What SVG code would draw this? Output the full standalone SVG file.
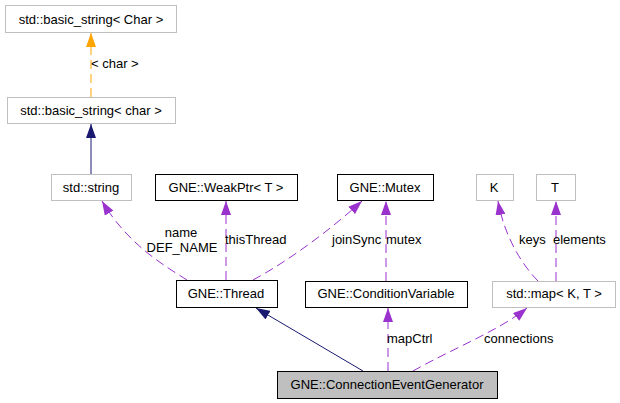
<svg xmlns="http://www.w3.org/2000/svg" width="620" height="403" viewBox="0 0 620 403">
<style>
text{font-family:"Liberation Sans",Arial,sans-serif;font-size:13px;fill:#000}
.n text{text-anchor:middle}
.b{fill:#fff;stroke:#000;stroke-width:1}
.g{fill:#fff;stroke:#bfbfbf;stroke-width:1}
.cur{fill:#bfbfbf;stroke:#000;stroke-width:1}
.e{fill:none;stroke-width:1}
.p{stroke:#9a32cd;stroke-dasharray:9,5}
.o{stroke:#ffa500;stroke-dasharray:9,5}
.nv{stroke:#191970}
</style>
<defs>
<marker id="ap" viewBox="0 0 14 10" refX="14" refY="5" markerWidth="14" markerHeight="10" markerUnits="userSpaceOnUse" orient="auto"><path d="M0,0L14,5L0,10z" fill="#9a32cd"/></marker>
<marker id="ao" viewBox="0 0 14 10" refX="14" refY="5" markerWidth="14" markerHeight="10" markerUnits="userSpaceOnUse" orient="auto"><path d="M0,0L14,5L0,10z" fill="#ffa500"/></marker>
<marker id="an" viewBox="0 0 14 10" refX="14" refY="5" markerWidth="14" markerHeight="10" markerUnits="userSpaceOnUse" orient="auto"><path d="M0,0L14,5L0,10z" fill="#191970"/></marker>
</defs>
<g id="connectors">
<path class="e o" d="M91,97 L91,33" marker-end="url(#ao)"/>
<text x="91" y="68">&lt; char &gt;</text>
<path class="e nv" d="M91,174 L91,124" marker-end="url(#an)"/>
<path class="e p" d="M187,280 C165,266 128,245 102,201" marker-end="url(#ap)"/>
<text x="181" y="237" text-anchor="middle">name</text>
<text x="182" y="252" text-anchor="middle">DEF_NAME</text>
<path class="e p" d="M226,280 L226,201" marker-end="url(#ap)"/>
<text x="225" y="244">thisThread</text>
<path class="e p" d="M253,280 C290,260 330,230 362,201" marker-end="url(#ap)"/>
<text x="332" y="244">joinSync</text>
<path class="e p" d="M386,281 L386,201" marker-end="url(#ap)"/>
<text x="386" y="244">mutex</text>
<path class="e p" d="M538,281 C525,268 505,240 498,201" marker-end="url(#ap)"/>
<text x="519" y="244">keys</text>
<path class="e p" d="M556,281 L556,201" marker-end="url(#ap)"/>
<text x="553" y="244">elements</text>
<path class="e nv" d="M363,371 L256,308" marker-end="url(#an)"/>
<path class="e p" d="M388,371 L388,308" marker-end="url(#ap)"/>
<text x="387" y="343">mapCtrl</text>
<path class="e p" d="M413,371 C450,350 500,330 527,308" marker-end="url(#ap)"/>
<text x="484" y="343">connections</text>
</g>
<g id="basic_string_Char" class="n"><rect class="g" x="5.5" y="5.5" width="171" height="27"/><text x="91" y="24">std::basic_string&lt; Char &gt;</text></g>
<g id="basic_string_char" class="n"><rect class="g" x="7.5" y="97.5" width="168" height="26"/><text x="91" y="115">std::basic_string&lt; char &gt;</text></g>
<g id="std_string" class="n"><rect class="g" x="51.5" y="174.5" width="80" height="26"/><text x="91" y="192">std::string</text></g>
<g id="WeakPtr" class="n"><rect class="b" x="155.5" y="174.5" width="142" height="26"/><text x="226" y="192">GNE::WeakPtr&lt; T &gt;</text></g>
<g id="Mutex" class="n"><rect class="b" x="337.5" y="174.5" width="96" height="26"/><text x="385" y="192">GNE::Mutex</text></g>
<g id="K" class="n"><rect class="g" x="476.5" y="174.5" width="37" height="26"/><text x="494" y="192">K</text></g>
<g id="T" class="n"><rect class="g" x="536.5" y="174.5" width="39" height="26"/><text x="555" y="192">T</text></g>
<g id="Thread" class="n"><rect class="b" x="176.5" y="280.5" width="101" height="27"/><text x="226" y="298">GNE::Thread</text></g>
<g id="ConditionVariable" class="n"><rect class="b" x="305.5" y="281.5" width="162" height="26"/><text x="386" y="298">GNE::ConditionVariable</text></g>
<g id="map" class="n"><rect class="g" x="492.5" y="281.5" width="123" height="26"/><text x="554" y="298">std::map&lt; K, T &gt;</text></g>
<g id="ConnectionEventGenerator" class="n"><rect class="cur" x="277.5" y="371.5" width="220" height="27"/><text x="387" y="389">GNE::ConnectionEventGenerator</text></g>
</svg>
